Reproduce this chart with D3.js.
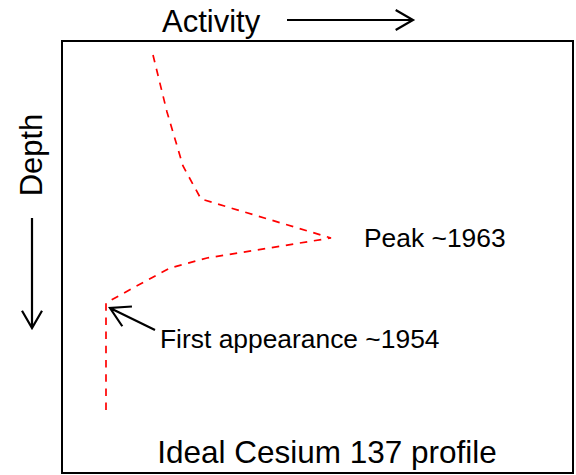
<!DOCTYPE html>
<html>
<head>
<meta charset="utf-8">
<script src="https://cdn.jsdelivr.net/npm/d3@7.9.0/dist/d3.min.js"></script>
<style>
  body { margin: 0; background: #fff; }
  text { font-family: "Liberation Sans", Arial, Helvetica, sans-serif; fill: #000; }
</style>
</head>
<body>
<svg id="chart" width="576" height="475"></svg>
<script>
// idealised Cs-137 profile: activity vs depth (arbitrary units)
const activity = [9.1, 10.5, 12.1, 13.9, 26.9, 14.5, 10.8, 7.1, 4.4, 4.4];
const depth = [1.4, 7.1, 12.5, 15.8, 19.7, 21.7, 22.7, 24.7, 26.2, 37.0];

const labels = [
  { text: 'Peak ~1963', a: 30.2, d: 20.6 },
  { text: 'First appearance ~1954', a: 9.8, d: 30.7 }
];
const firstArrow = { from: [9.3, 28.9], to: [4.8, 26.7] };

const svg = d3.select('#chart');
const box = { left: 62, top: 41, right: 573, bottom: 473 };

const x = d3.scaleLinear().domain([0, 51.1]).range([box.left, box.right]);
const y = d3.scaleLinear().domain([0, 43.2]).range([box.top, box.bottom]);

// arrow helper, R style open head
function arrow(x1, y1, x2, y2, len = 20, ang = Math.PI / 6) {
  const t = Math.atan2(y1 - y2, x1 - x2);
  const p = d3.path();
  p.moveTo(x1, y1); p.lineTo(x2, y2);
  p.moveTo(x2 + len * Math.cos(t + ang), y2 + len * Math.sin(t + ang));
  p.lineTo(x2, y2);
  p.lineTo(x2 + len * Math.cos(t - ang), y2 + len * Math.sin(t - ang));
  svg.append('path').attr('d', p.toString())
    .attr('fill', 'none').attr('stroke', '#000').attr('stroke-width', 2.2);
}

svg.append('rect')
  .attr('x', box.left).attr('y', box.top)
  .attr('width', box.right - box.left).attr('height', box.bottom - box.top)
  .attr('fill', 'none').attr('stroke', '#000').attr('stroke-width', 2);

const pts = activity.map((a, i) => [a, depth[i]]);
svg.append('path')
  .datum(pts)
  .attr('d', d3.line().x(d => x(d[0])).y(d => y(d[1])))
  .attr('fill', 'none')
  .attr('stroke', '#ff0000')
  .attr('stroke-width', 1.7)
  .attr('stroke-dasharray', '7.5,6.7');

labels.forEach(l => {
  svg.append('text')
    .attr('x', x(l.a)).attr('y', y(l.d))
    .attr('font-size', 26.4)
    .text(l.text);
});
arrow(x(firstArrow.from[0]), y(firstArrow.from[1]), x(firstArrow.to[0]), y(firstArrow.to[1]), 22);

// axis labels with arrows
svg.append('text').attr('x', 162).attr('y', 32).attr('font-size', 31).text('Activity');
arrow(287, 20, 413, 20);

svg.append('text')
  .attr('transform', 'translate(42,155) rotate(-90)')
  .attr('text-anchor', 'middle').attr('font-size', 31)
  .text('Depth');
arrow(32, 218, 32, 328);

svg.append('text')
  .attr('x', 327).attr('y', 463)
  .attr('text-anchor', 'middle').attr('font-size', 31.5)
  .text('Ideal Cesium 137 profile');
</script>
</body>
</html>
